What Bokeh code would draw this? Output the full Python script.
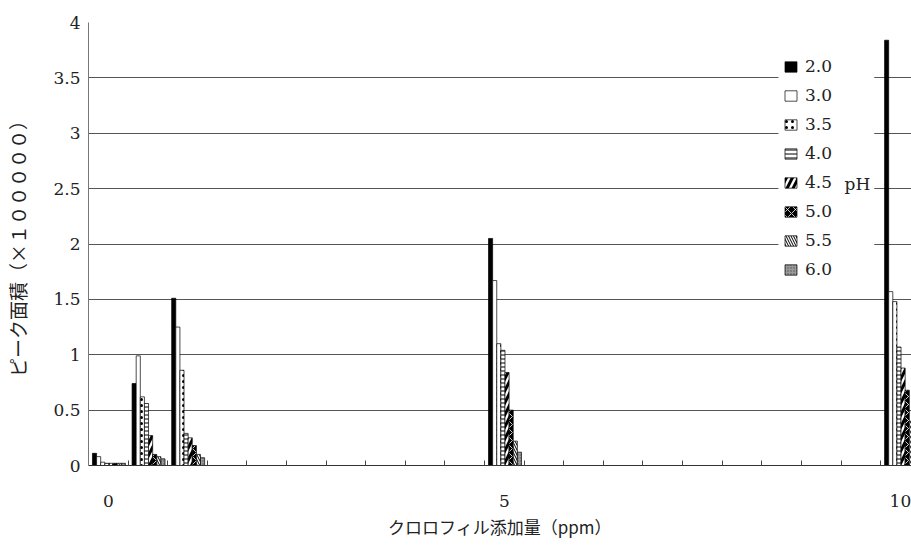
from bokeh.plotting import figure
from bokeh.models import (ColumnDataSource, FixedTicker, NumeralTickFormatter, Legend,
                          LegendItem, Label, Range1d, BoxAnnotation)
from bokeh.transform import dodge
from bokeh.embed import file_html
from bokeh.resources import INLINE

# ---- data ----
x_vals = [0, 0.5, 1, 5, 10]          # クロロフィル添加量 (ppm)
ph_labels = ["2.0", "3.0", "3.5", "4.0", "4.5", "5.0", "5.5", "6.0"]
ph20 = [0.11, 0.74, 1.51, 2.05, 3.84]
ph30 = [0.08, 0.99, 1.25, 1.67, 1.57]
ph35 = [0.03, 0.62, 0.86, 1.10, 1.48]
ph40 = [0.02, 0.56, 0.29, 1.04, 1.07]
ph45 = [0.02, 0.27, 0.25, 0.84, 0.88]
ph50 = [0.02, 0.10, 0.18, 0.50, 0.68]
ph55 = [0.02, 0.08, 0.10, 0.22, 0.40]
ph60 = [0.02, 0.06, 0.07, 0.12, 0.20]
series = [ph20, ph30, ph35, ph40, ph45, ph50, ph55, ph60]
y_ticks = [0, 0.5, 1, 1.5, 2, 2.5, 3, 3.5, 4]
x_ticks = [0, 5, 10]

src = ColumnDataSource(dict(x=x_vals, **{f"s{i}": s for i, s in enumerate(series)}))

SERIF = "DejaVu Serif"
CJK = "Noto Sans CJK JP"

p = figure(width=911, height=545, output_backend="svg", toolbar_location=None,
           x_range=Range1d(-0.25, 10.14), y_range=Range1d(0, 4),
           min_border_left=88, min_border_right=0, min_border_top=22, min_border_bottom=80,
           background_fill_color="white", border_fill_color="white")
p.outline_line_color = None

styles = [
    dict(fill_color="black"),
    dict(fill_color="white"),
    dict(fill_color="white", hatch_pattern="dot", hatch_color="black", hatch_scale=6, hatch_weight=1.5),
    dict(fill_color="white", hatch_pattern="horizontal_line", hatch_color="black", hatch_scale=4, hatch_weight=1),
    dict(fill_color="white", hatch_pattern="right_diagonal_line", hatch_color="black", hatch_scale=12, hatch_weight=3),
    dict(fill_color="black", hatch_pattern="diagonal_cross", hatch_color="white", hatch_scale=8, hatch_weight=0.8),
    dict(fill_color="white", hatch_pattern="left_diagonal_line", hatch_color="black", hatch_scale=5, hatch_weight=1),
    dict(fill_color="#9a9a9a", hatch_pattern="dot", hatch_color="#555555", hatch_scale=3, hatch_weight=1),
]

bw = 0.052
renderers = []
for i, st in enumerate(styles):
    off = -0.2 + bw * (i + 0.5)
    r = p.vbar(x=dodge("x", off, range=p.x_range), top=f"s{i}", width=bw, source=src,
               line_color="black", line_width=0.7, **st)
    renderers.append(r)

# axes
p.xaxis.ticker = FixedTicker(ticks=x_ticks, minor_ticks=[0.25 + 0.5 * k for k in range(20)])
p.xaxis.major_tick_in = 0
p.xaxis.major_tick_out = 0
p.xaxis.minor_tick_in = 5
p.xaxis.minor_tick_out = 0
p.xaxis.minor_tick_line_color = "#444444"
p.xaxis.axis_line_color = "#333333"
p.xaxis.major_label_standoff = 29
p.xaxis.major_label_text_font = SERIF
p.xaxis.major_label_text_font_size = "17px"
p.xaxis.major_label_text_color = "#222222"
p.xaxis.axis_label = "クロロフィル添加量（ppm）"
p.xaxis.axis_label_text_font = CJK
p.xaxis.axis_label_text_font_size = "17px"
p.xaxis.axis_label_text_font_style = "normal"
p.xaxis.axis_label_text_color = "#222222"
p.xaxis.axis_label_standoff = 4

p.yaxis.ticker = FixedTicker(ticks=y_ticks)
p.yaxis.formatter = NumeralTickFormatter(format="0.[0]")
p.yaxis.major_tick_in = 0
p.yaxis.major_tick_out = 0
p.yaxis.minor_tick_in = 0
p.yaxis.minor_tick_out = 0
p.yaxis.axis_line_color = "#777777"
p.yaxis.major_label_standoff = 8
p.yaxis.major_label_text_font = SERIF
p.yaxis.major_label_text_font_size = "17px"
p.yaxis.major_label_text_color = "#222222"
p.yaxis.axis_label = "ピーク面積（×１０００００）"
p.yaxis.axis_label_text_font = CJK
p.yaxis.axis_label_text_font_size = "19px"
p.yaxis.axis_label_text_font_style = "normal"
p.yaxis.axis_label_text_color = "#222222"
p.yaxis.axis_label_standoff = 19

p.xgrid.grid_line_color = None
p.ygrid.ticker = FixedTicker(ticks=y_ticks)
p.ygrid.grid_line_color = "#555555"
p.ygrid.grid_line_width = 1

# white panel behind the legend and the "pH" caption (hides the grid lines there)
p.add_layout(BoxAnnotation(left=8.46, right=9.67, bottom=1.62, top=3.79,
                           fill_color="white", fill_alpha=1.0, line_color=None))

legend = Legend(items=[LegendItem(label=lab, renderers=[r]) for lab, r in zip(ph_labels, renderers)],
                location=(695, 186), orientation="vertical",
                padding=7, margin=0, spacing=9, label_height=20, glyph_height=13, glyph_width=15,
                label_standoff=7, label_width=30,
                border_line_color=None, background_fill_color="white", background_fill_alpha=0.0,
                label_text_font=SERIF, label_text_font_size="17px", label_text_color="#222222")
p.add_layout(legend)

p.add_layout(Label(x=9.457, y=2.546, text="pH", text_align="center", text_baseline="middle",
                   text_font=SERIF, text_font_size="17px", text_color="#222222"))

open("out.html", "w").write(file_html(p, INLINE))
